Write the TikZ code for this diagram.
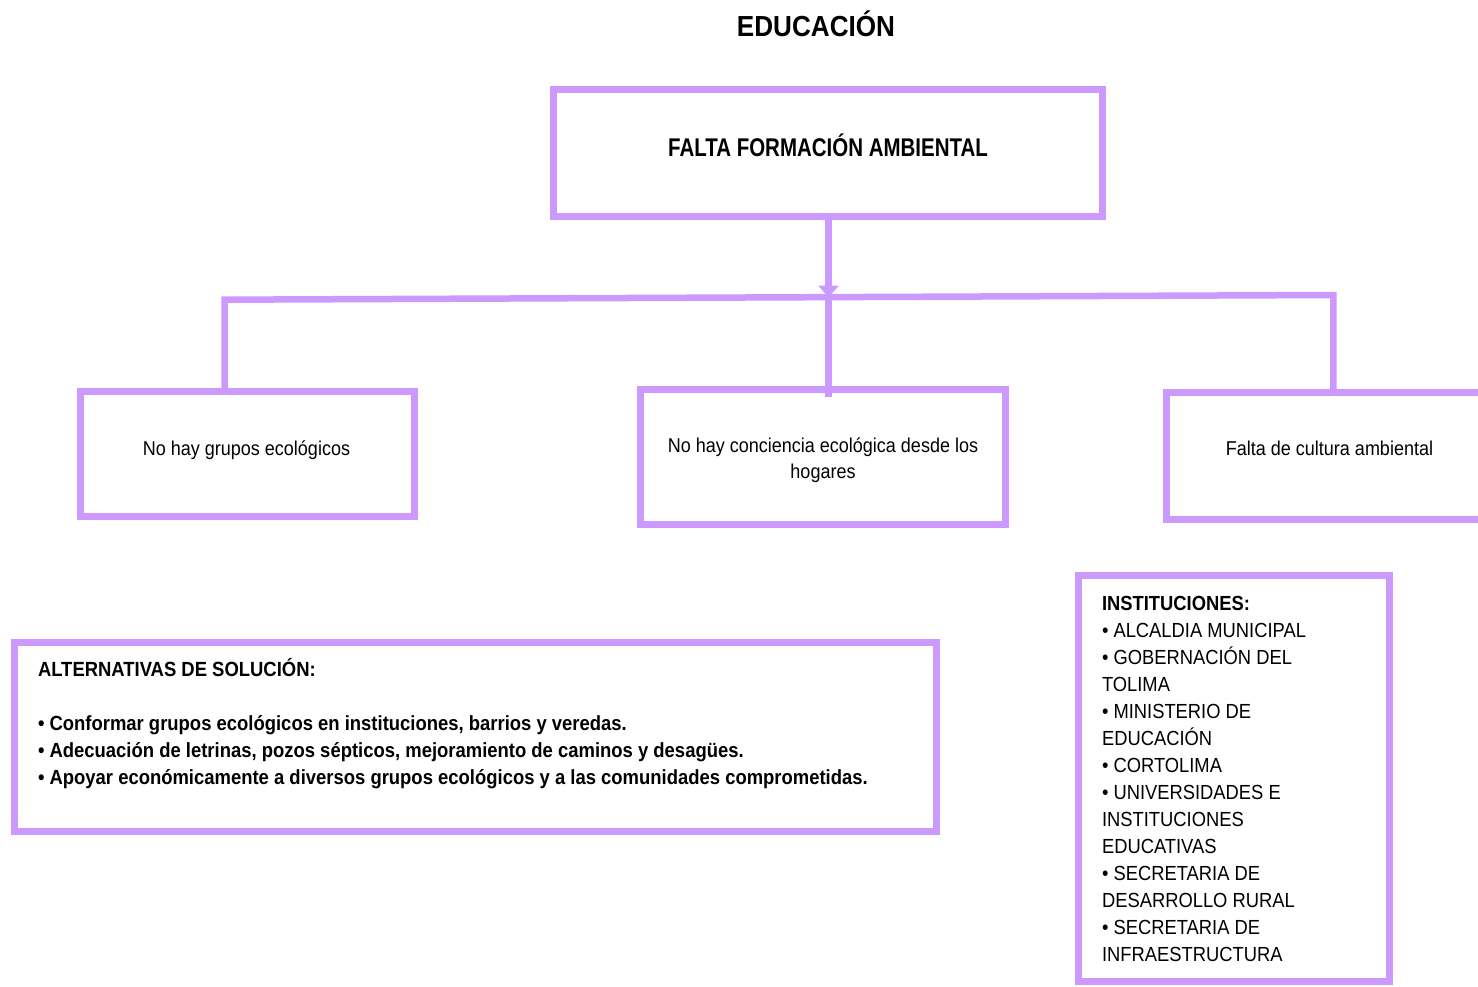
\documentclass[tikz,border=0pt]{standalone}
\usepackage{fontspec}
\setmainfont{Liberation Sans}[FakeStretch=0.9]
\newfontfamily\narrowfont{Liberation Sans}[FakeStretch=0.8]
\usetikzlibrary{arrows.meta}
\definecolor{lila}{HTML}{CC99FF}
\begin{document}
\begin{tikzpicture}[x=1pt,y=-1pt,
  box/.style={draw=lila, line width=7pt, fill=none, inner sep=0pt, outer sep=0pt, rectangle},
  conn/.style={draw=lila, line width=6.5pt, line join=miter},
  txt/.style={inner sep=0pt, outer sep=0pt, text=black, font=\fontsize{20}{26}\selectfont},
  btxt/.style={inner sep=0pt, outer sep=0pt, text=black, font=\bfseries\fontsize{20.5}{27}\selectfont}]
\clip (0,0) rectangle (1478,986);
\fill[white] (0,0) rectangle (1478,986);

% title
\node[inner sep=0pt, anchor=base, font=\bfseries\fontsize{29}{35}\selectfont] (title) at (816,36) {EDUCACIÓN};

% boxes
\node[box, minimum width=549pt, minimum height=127pt] (top) at (828.1,153.1) {};
\node[box, minimum width=334.5pt, minimum height=124.8pt] (lb) at (247.25,454.1) {};
\node[box, minimum width=365pt, minimum height=135.3pt] (mb) at (823,457.2) {};
\node[box, minimum width=400pt, minimum height=127.7pt] (rb) at (1366,455.9) {};
\node[box, minimum width=921.6pt, minimum height=188.7pt] (alt) at (475.5,736.9) {};
\node[box, minimum width=310.3pt, minimum height=405.7pt] (inst) at (1233.9,778.2) {};

% texts
\node[inner sep=0pt, anchor=base, font=\narrowfont\bfseries\fontsize{25.6}{30}\selectfont] (toptxt) at (828,156.7) {FALTA FORMACIÓN AMBIENTAL};
\node[txt, anchor=base] (lbtxt) at (246.5,455) {No hay grupos ecológicos};
\node[txt, anchor=base] (mbtxt1) at (823,452.3) {No hay conciencia ecológica desde los};
\node[txt, anchor=base] (mbtxt2) at (823,478) {hogares};
\node[txt, anchor=base] (rbtxt) at (1329.5,455) {Falta de cultura ambiental};

% multi-line nodes: base anchor is the last line's baseline
\node[btxt, anchor=base west, align=left] (alttxt) at (38,784.7)
  {ALTERNATIVAS DE SOLUCIÓN:\\[27pt]
   • Conformar grupos ecológicos en instituciones, barrios y veredas.\\
   • Adecuación de letrinas, pozos sépticos, mejoramiento de caminos y desagües.\\
   • Apoyar económicamente a diversos grupos ecológicos y a las comunidades comprometidas.};

\node[txt, anchor=base west, align=left, font=\fontsize{20.4}{27}\selectfont] (insttxt) at (1102,961)
  {\textbf{INSTITUCIONES:}\\
   • ALCALDIA MUNICIPAL\\
   • GOBERNACIÓN DEL\\
   TOLIMA\\
   • MINISTERIO DE\\
   EDUCACIÓN\\
   • CORTOLIMA\\
   • UNIVERSIDADES E\\
   INSTITUCIONES\\
   EDUCATIVAS\\
   • SECRETARIA DE\\
   DESARROLLO RURAL\\
   • SECRETARIA DE\\
   INFRAESTRUCTURA};

% connectors
\coordinate (jn) at (828.5,297.5);
\coordinate (hl) at (224.7,299.7);
\coordinate (hr) at (1333.3,295);
\coordinate (mend) at (828.5,396.7);
\draw[conn] (lb.north -| hl) -- (hl) -- (hr) -- (rb.north -| hr);
\draw[conn, -{Triangle[width=20pt,length=12pt]}] (top.south -| jn) -- (jn);
\draw[conn] (jn) -- (mend);
\end{tikzpicture}
\end{document}
